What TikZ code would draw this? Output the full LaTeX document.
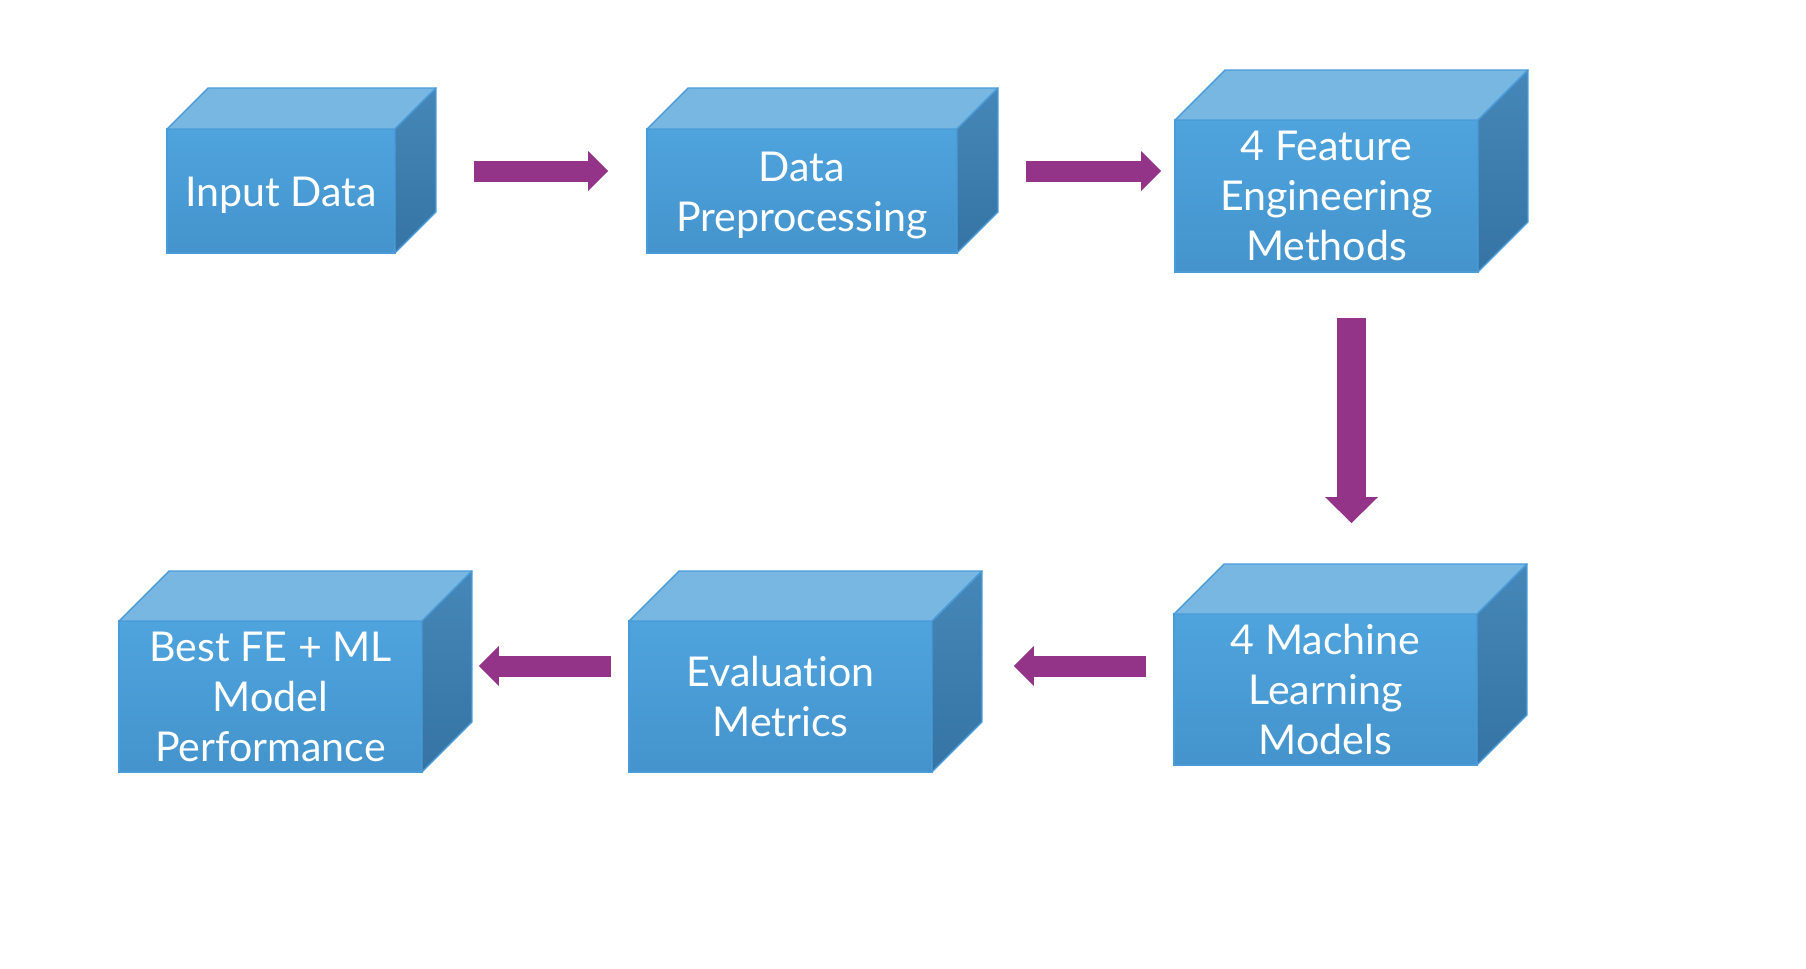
\documentclass[tikz,border=0pt]{standalone}
\usepackage{fontspec}
\setmainfont{Lato}[Ligatures={NoCommon, NoContextual}]
\usetikzlibrary{arrows.meta}

\definecolor{FrontTop}{HTML}{4FA4DE}
\definecolor{FrontBot}{HTML}{4493CC}
\definecolor{TopFace}{HTML}{78B7E1}
\definecolor{SideTop}{HTML}{4587B8}
\definecolor{SideBot}{HTML}{3574A4}
\definecolor{EdgeBlue}{HTML}{4A9CD8}
\definecolor{FlowPurple}{HTML}{943489}

\tikzset{
  cubefront/.style={rectangle, draw=EdgeBlue, line width=0.8pt, top color=FrontTop, bottom color=FrontBot,
    text=white, align=center, inner sep=0pt, outer sep=0pt, font=\fontsize{23.4}{28.5}\selectfont},
  cubeedge/.style={draw=EdgeBlue, line width=0.8pt, line join=round},
  flowarrow/.style={draw=FlowPurple, line width=0.42cm, -{Triangle[length=0.4cm, width=0.8cm, line width=0pt]}},
  downarrow/.style={draw=FlowPurple, line width=0.58cm, -{Triangle[length=0.52cm, width=1.06cm, line width=0pt]}}
}

% top and side face of a box, #1 = node, #2 = depth
\newcommand{\cubefaces}[2]{%
  \draw[cubeedge, fill=TopFace] (#1.north west) -- ++(#2,-#2) -- ([shift={(#2,-#2)}]#1.north east) -- (#1.north east) -- cycle;
  \draw[cubeedge, top color=SideTop, bottom color=SideBot] (#1.north east) -- ++(#2,-#2) -- ([shift={(#2,-#2)}]#1.south east) -- (#1.south east) -- cycle;
}
\newcommand{\topstrut}{\rule{0pt}{22pt}}

\begin{document}
\begin{tikzpicture}[x=0.02cm, y=-0.02cm]
  \useasboundingbox (0,0) rectangle (1806,968);

  % Top row
  \node[cubefront, minimum width=4.56cm, minimum height=2.48cm] (in) at (281,191) {\topstrut Input Data};
  \cubefaces{in}{41}
  \node[cubefront, minimum width=6.2cm, minimum height=2.48cm] (prep) at (802,191) {\topstrut Data\\Preprocessing};
  \cubefaces{prep}{41}
  \node[cubefront, minimum width=6.06cm, minimum height=3.04cm] (feat) at (1326.5,196) {4 Feature\\Engineering\\Methods};
  \cubefaces{feat}{50}

  % Bottom row
  \node[cubefront, minimum width=6.06cm, minimum height=3.02cm] (ml) at (1325.5,689.5) {4 Machine\\Learning\\Models};
  \cubefaces{ml}{50}
  \node[cubefront, minimum width=6.06cm, minimum height=3.02cm] (eval) at (780.5,696.5) {Evaluation\\Metrics};
  \cubefaces{eval}{50}
  \node[cubefront, minimum width=6.06cm, minimum height=3.02cm] (best) at (270.5,696.5) {Best FE + ML\\Model\\Performance};
  \cubefaces{best}{50}

  % Arrows
  \draw[flowarrow] ([shift={(79,-20)}]in.east) -- ([shift={(-39,-20)}]prep.west);
  \draw[flowarrow] ([shift={(69,-20)}]prep.east) -- ([shift={(-14,-25)}]feat.west);
  \draw[downarrow] ([shift={(25,46)}]feat.south) -- ([shift={(26,-91)}]ml.north);
  \draw[flowarrow] ([shift={(-28,-23.5)}]ml.west) -- ([shift={(82,-30.5)}]eval.east);
  \draw[flowarrow] ([shift={(-18,-30.5)}]eval.west) -- ([shift={(57,-30.5)}]best.east);
\end{tikzpicture}
\end{document}
